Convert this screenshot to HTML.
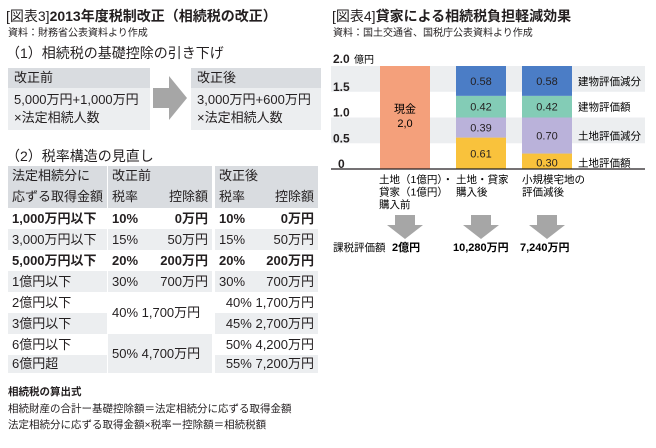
<!DOCTYPE html>
<html><head><meta charset="utf-8">
<style>
body{margin:0;width:656px;height:448px;background:#fff;overflow:hidden;font-family:"Liberation Sans","Noto Sans CJK JP",sans-serif;color:#231f20;position:relative}
.a{position:absolute;white-space:nowrap}
.t{font-size:14px;font-weight:bold}
.t span{font-weight:normal}
.s{font-size:10px}
.h{font-size:14px}
.box{position:absolute;background:#eceef0}
.bh{background:#d9dce0;height:20px;font-size:13px;padding-left:6px;line-height:20px}
.bb{font-size:13px;padding:3px 6px;line-height:18px}
.c{position:absolute;font-size:13px;line-height:20px;box-sizing:border-box;padding:0 4px}
.g{background:#eceef0}.hd{background:#d9dce0}
.r{text-align:right}
.b{font-weight:bold}
</style></head><body>
<div class="a t" style="left:6px;top:6px"><span>[図表3]</span>2013年度税制改正（相続税の改正）</div>
<div class="a s" style="left:8px;top:24px">資料：財務省公表資料より作成</div>
<div class="a h" style="left:6px;top:43px">（1）相続税の基礎控除の引き下げ</div>
<div class="box" style="left:8px;top:68px;width:142px;height:62px"><div class="bh">改正前</div><div class="bb">5,000万円+1,000万円<br>×法定相続人数</div></div>
<svg class="a" style="left:153px;top:76px" width="36" height="44"><polygon points="0,12 16,12 16,0 34,22 16,44 16,32 0,32" fill="#a6a6a6"/></svg>
<div class="box" style="left:191px;top:68px;width:130px;height:62px"><div class="bh">改正後</div><div class="bb">3,000万円+600万円<br>×法定相続人数</div></div>
<div class="a h" style="left:6px;top:146px">（2）税率構造の見直し</div>
<div id="tbl"></div>
<div class="a b" style="left:8px;top:384px;font-size:10.5px">相続税の算出式</div>
<div class="a" style="left:8px;top:401px;font-size:10.5px">相続財産の合計ー基礎控除額＝法定相続分に応ずる取得金額</div>
<div class="a" style="left:8px;top:417px;font-size:10.5px">法定相続分に応ずる取得金額×税率ー控除額＝相続税額</div>

<div class="a t" style="left:332px;top:6px"><span>[図表4]</span>貸家による相続税負担軽減効果</div>
<div class="a s" style="left:333px;top:24px">資料：国土交通省、国税庁公表資料より作成</div>
<svg class="a" style="left:0;top:0" width="656" height="448" id="chart"></svg>
<script>
const rows=[["法定相続分に","改正前","","改正後",""],["応ずる取得金額","税率","控除額","税率","控除額"],
["1,000万円以下","10%","0万円","10%","0万円"],["3,000万円以下","15%","50万円","15%","50万円"],
["5,000万円以下","20%","200万円","20%","200万円"],["1億円以下","30%","700万円","30%","700万円"],
["2億円以下","","","40%","1,700万円"],["3億円以下","","","45%","2,700万円"],
["6億円以下","","","50%","4,200万円"],["6億円超","","","55%","7,200万円"]];
const tbl=document.getElementById('tbl');
const ys=[166,186,208,229,250,271,292,313,334,355],H=[20,22,21,21,21,21,21,21,21,18];
function cell(x,y,w,h,txt,cls,name){const d=document.createElement('div');d.className='c '+cls;d.style.cssText=`left:${x}px;top:${y}px;width:${w}px;height:${h}px;line-height:${h}px`;d.textContent=txt;


tbl.appendChild(d);}
rows.forEach((r,i)=>{const hdr=i<2,g=hdr?'hd':(i%2?'g':'');const bold=(i==2||i==4)?' b':'';
cell(8,ys[i],99,H[i],r[0],g+bold,'row-label');
if(i>=6)return; if(i==0){cell(108,ys[i],104,H[i],r[1],g,'header-before');cell(215,ys[i],103,H[i],r[3],g,'header-after');return;}
cell(108,ys[i],40,H[i],r[1],g+bold,'rate-before');cell(148,ys[i],64,H[i],r[2],g+' r'+bold,'deduction-before');
cell(215,ys[i],40,H[i],r[3],g+bold,'rate-after');cell(255,ys[i],63,H[i],r[4],g+' r'+bold,'deduction-after');});
cell(108,292,104,42,'40% 1,700万円','','merged-before-40');
cell(108,334,104,39,'50% 4,700万円','g','merged-before-50');
for(let i=6;i<10;i++){cell(215,ys[i],103,H[i],rows[i][3]+' '+rows[i][4],(i%2?'g':'')+' r','after-rate-'+i);}
</script>
<script>
const categories=["cash","after","small"];
const cashValues=[2.0];
const landValue=[0,0.61,0.30];
const landReduce=[0,0.39,0.70];
const bldValue=[0,0.42,0.42];
const bldReduce=[0,0.58,0.58];
const ticks=[0,0.5,1.0,1.5,2.0];
const tickLabels=["0","0.5","1.0","1.5","2.0"];
const seriesNames=["土地評価額","土地評価減分","建物評価額","建物評価減分"];
const totals=["2億円","10,280万円","7,240万円"];
const svg=document.getElementById('chart'),NS='http://www.w3.org/2000/svg';
const y0=169,ppu=51.5,Y=v=>y0-v*ppu;
const bx=[380,456,522],bw=50;
function el(t,a,txt,name){const e=document.createElementNS(NS,t);for(const k in a)e.setAttribute(k,a[k]);if(txt!=null)e.textContent=txt;


svg.appendChild(e);return e;}
[[1.5,2.0],[0.5,1.0]].forEach(b=>el('rect',{x:331,y:Y(b[1]),width:314,height:Y(b[0])-Y(b[1]),fill:'#eceef0'},null,'grid-band'));
ticks.forEach((t,i)=>{el('text',{x:i==0?338:333,y:Y(t)-(i==4?3:1),'font-size':12,'font-weight':'bold',fill:'#231f20'},tickLabels[i],'y-tick-label');});
el('text',{x:354,y:Y(2.0)-3,'font-size':10},'億円','y-unit');
el('rect',{x:bx[0],y:Y(cashValues[0]),width:bw,height:cashValues[0]*ppu,fill:'#f4a07b'},null,'bar-cash');
el('text',{x:bx[0]+bw/2,y:Y(1.1),'font-size':11,'text-anchor':'middle'},'現金','cash-label');
el('text',{x:bx[0]+bw/2,y:Y(0.82),'font-size':11,'text-anchor':'middle'},cashValues[0].toFixed(1).replace('.',','),'cash-value');
const series=[landValue,landReduce,bldValue,bldReduce],cols=['#f9c23c','#bab2da','#83ccb6','#4b7dc6'];
for(let c=1;c<3;c++){let base=0;series.forEach((s,k)=>{const v=s[c];
el('rect',{x:bx[c],y:Y(base+v),width:bw,height:v*ppu,fill:cols[k]},null,'bar-segment');
el('text',{x:bx[c]+bw/2,y:Y(base+v/2)+(c==2&&k==0?5:4),'font-size':11,'text-anchor':'middle',fill:'#231f20'},v.toFixed(2),'segment-value');
base+=v;});}
let base=0;series.forEach((s,k)=>{const v=s[2];el('text',{x:578,y:Y(base+v/2)+(k==0?5:4),'font-size':10.5},seriesNames[k],'legend-label');base+=v;});
el('line',{x1:331,x2:645,y1:y0,y2:y0,stroke:'#231f20','stroke-width':1.2},null,'x-axis');
[["土地（1億円）・","貸家（1億円）","購入前"],["土地・貸家","購入後"],["小規模宅地の","評価減後"]].forEach((ls,i)=>ls.forEach((l,j)=>el('text',{x:[379,456,522][i],y:183+j*12.5,'font-size':10.5},l,'category-label')));
bx.forEach((x,i)=>el('polygon',{points:`${x+15},215 ${x+35},215 ${x+35},225 ${x+43},225 ${x+25},239 ${x+7},225 ${x+15},225`,fill:'#a6a6a6'},null,'down-arrow'));
el('text',{x:333,y:251,'font-size':10.5},'課税評価額','taxable-label');
totals.forEach((t,i)=>el('text',{x:[392,453,520][i],y:251,'font-size':11,'font-weight':'bold'},t,'taxable-value'));
</script>
</body></html>
